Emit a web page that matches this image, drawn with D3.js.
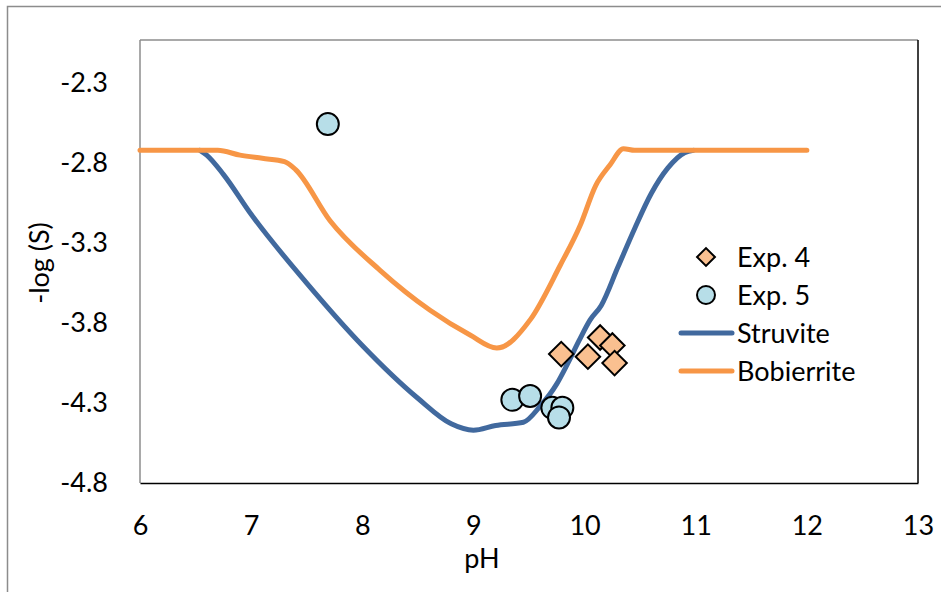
<!DOCTYPE html>
<html><head><meta charset="utf-8">
<script src="https://cdn.jsdelivr.net/npm/d3@7"></script>
<style>body{margin:0;background:#fff}svg{display:block}text{font-family:Lato,"Open Sans",sans-serif;fill:#000}</style>
</head><body>
<script>
// ---- data ----
const xTicks = [6, 7, 8, 9, 10, 11, 12, 13];
const yTicks = [-4.8, -4.3, -3.8, -3.3, -2.8, -2.3];
const struvitePH = [6.54, 6.6, 6.75, 7.0, 7.5, 8.0, 8.5, 8.8, 9.0, 9.2, 9.45, 9.6, 9.75, 9.85, 9.95, 10.05, 10.15, 10.3, 10.45, 10.6, 10.75, 10.9, 10.98];
const struviteS  = [-2.72, -2.75, -2.87, -3.12, -3.55, -3.94, -4.27, -4.43, -4.47, -4.44, -4.42, -4.32, -4.18, -4.05, -3.91, -3.78, -3.69, -3.45, -3.21, -2.99, -2.83, -2.735, -2.72];
const bobPH = [6.0, 6.7, 6.9, 7.1, 7.3, 7.4, 7.71, 8.16, 8.61, 8.97, 9.21, 9.51, 9.78, 9.96, 10.1, 10.23, 10.35, 10.45, 12.0];
const bobS  = [-2.72, -2.72, -2.75, -2.77, -2.79, -2.84, -3.16, -3.47, -3.72, -3.875, -3.956, -3.78, -3.44, -3.19, -2.94, -2.81, -2.71, -2.72, -2.72];
const exp4PH = [9.79, 10.03, 10.14, 10.25, 10.27];
const exp4S  = [-3.994, -4.01, -3.89, -3.94, -4.05];
const exp5PH = [7.69, 9.35, 9.51, 9.71, 9.80, 9.77];
const exp5S  = [-2.556, -4.28, -4.256, -4.33, -4.33, -4.39];
const legendLabels = ["Exp. 4", "Exp. 5", "Struvite", "Bobierrite"];

const W = 941, H = 592, FS = 27;
const svg = d3.select("body").append("svg").attr("width", W).attr("height", H);
// outer border
svg.append("rect").attr("x", 7.5).attr("y", 6.5).attr("width", 1000).attr("height", 1000)
  .attr("fill", "none").attr("stroke", "#8c8c8c").attr("stroke-width", 1.5);

const L = 140, R = 918, T = 40, B = 483;
const x = d3.scaleLinear().domain([6, 13]).range([L, R]);
const y = d3.scaleLinear().domain([-4.8, -2.03]).range([B, T]);

// plot area frame
svg.append("line").attr("x1", L).attr("x2", R).attr("y1", T).attr("y2", T).attr("stroke", "#8c8c8c").attr("stroke-width", 1.5);
svg.append("line").attr("x1", L).attr("x2", L).attr("y1", T).attr("y2", B).attr("stroke", "#8c8c8c").attr("stroke-width", 1.5);
svg.append("line").attr("x1", R).attr("x2", R).attr("y1", T).attr("y2", B).attr("stroke", "#000").attr("stroke-width", 1.5);

// axes
const xAxis = svg.append("g").attr("transform", `translate(0,${B})`)
  .call(d3.axisBottom(x).tickValues(xTicks).tickSize(0).tickPadding(33).tickFormat(d => String(d)));
xAxis.select(".domain").attr("stroke", "#000").attr("stroke-width", 1.5);
xAxis.selectAll("text").attr("font-size", FS).style("font-family", "Lato, sans-serif");
const yAxis = svg.append("g").attr("transform", `translate(${L},0)`)
  .call(d3.axisLeft(y).tickValues(yTicks).tickSize(0).tickPadding(32).tickFormat(d => d.toFixed(1)));
yAxis.select(".domain").remove();
yAxis.selectAll("text").attr("font-size", FS).style("font-family", "Lato, sans-serif");

// axis titles
svg.append("text").attr("x", 482).attr("y", 568).attr("text-anchor", "middle").attr("font-size", FS).text("pH");
svg.append("text").attr("transform", "translate(49,263) rotate(-90)").attr("text-anchor", "middle").attr("font-size", FS).text("-log (S)");

const line = d3.line().x(d => x(d[0])).y(d => y(d[1])).curve(d3.curveMonotoneX);
const blue = "#41699e", orange = "#f79646";
svg.append("path").attr("d", line(struvitePH.map((p, i) => [p, struviteS[i]])))
  .attr("fill", "none").attr("stroke", blue).attr("stroke-width", 5).attr("stroke-linecap", "round");
svg.append("path").attr("d", line(bobPH.map((p, i) => [p, bobS[i]])))
  .attr("fill", "none").attr("stroke", orange).attr("stroke-width", 5).attr("stroke-linecap", "round");

const dia = d3.symbol().type(d3.symbolSquare).size(300);
svg.selectAll(".e4").data(exp4PH.map((p, i) => [p, exp4S[i]])).enter().append("path")
  .attr("d", dia).attr("transform", d => `translate(${x(d[0])},${y(d[1])}) rotate(45)`)
  .attr("fill", "#fac090").attr("stroke", "#000").attr("stroke-width", 2);
svg.selectAll(".e5").data(exp5PH.map((p, i) => [p, exp5S[i]])).enter().append("circle")
  .attr("cx", d => x(d[0])).attr("cy", d => y(d[1])).attr("r", 11)
  .attr("fill", "#b7dee8").attr("stroke", "#000").attr("stroke-width", 2);

// legend
const lg = svg.append("g");
const ly = [257, 295, 333, 371];
lg.append("path").attr("d", d3.symbol().type(d3.symbolSquare).size(160)).attr("transform", `translate(706,${ly[0]}) rotate(45)`)
  .attr("fill", "#fac090").attr("stroke", "#000").attr("stroke-width", 2);
lg.append("circle").attr("cx", 706).attr("cy", ly[1]).attr("r", 9).attr("fill", "#b7dee8").attr("stroke", "#000").attr("stroke-width", 2);
lg.append("line").attr("x1", 681).attr("x2", 732).attr("y1", ly[2]).attr("y2", ly[2]).attr("stroke", blue).attr("stroke-width", 5).attr("stroke-linecap", "round");
lg.append("line").attr("x1", 681).attr("x2", 732).attr("y1", ly[3]).attr("y2", ly[3]).attr("stroke", orange).attr("stroke-width", 5).attr("stroke-linecap", "round");
legendLabels.forEach((t, i) => {
  lg.append("text").attr("x", 737).attr("y", ly[i] + 9.5).attr("font-size", FS).text(t);
});
</script>
</body></html>
